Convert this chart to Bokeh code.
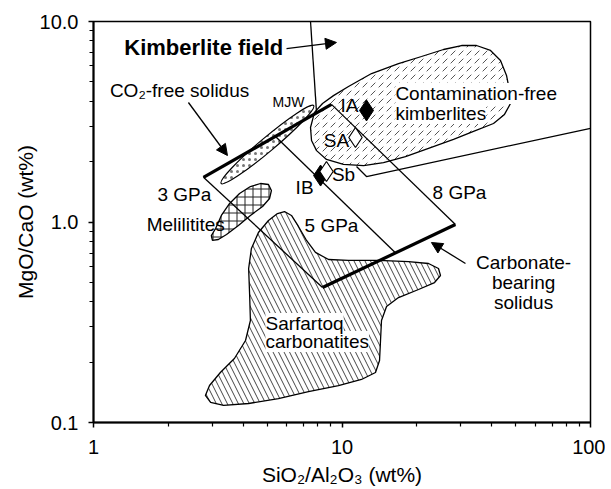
from bokeh.plotting import figure
from bokeh.models import Range1d, FixedTicker, Arrow, NormalHead, ColumnDataSource
from bokeh.core.properties import value
from bokeh.embed import file_html
from bokeh.resources import INLINE

FONT = "Liberation Sans"

# ---- axis ticks ----
x_major = [1, 10, 100]
x_minor = [2, 3, 4, 5, 6, 7, 8, 9, 20, 30, 40, 50, 60, 70, 80, 90]
x_labels = ["1", "10", "100"]
y_major = [0.1, 1, 10]
y_minor = [0.2, 0.3, 0.4, 0.5, 0.6, 0.7, 0.8, 0.9, 2, 3, 4, 5, 6, 7, 8, 9]
y_labels = ["0.1", "1.0", "10.0"]

# ---- kimberlite field lines (SiO2/Al2O3, MgO/CaO) ----
iso3_x = [2.77, 8.35]; iso3_y = [1.67, 0.471]
iso5_x = [5.40, 16.4]; iso5_y = [2.67, 0.702]
iso8_x = [9.07, 28.6]; iso8_y = [3.86, 0.972]
co2free_x = [2.77, 9.07]; co2free_y = [1.67, 3.86]
carb_x = [8.35, 28.6]; carb_y = [0.471, 0.972]
kleft_x = [7.47, 7.90]; kleft_y = [10.0, 3.50]
kright_x = [11.44, 12.55, 100]; kright_y = [1.89, 1.686, 2.93]

# ---- fields ----
sarf_x = [5.87, 6.26, 6.68, 7.20, 7.82, 8.83, 10.62, 14.03, 18.52, 22.29, 24.45, 24.91,
          23.57, 20.32, 16.88, 15.11, 14.42, 14.29, 14.16, 13.64, 11.98, 9.68, 7.33, 5.55,
          4.21, 3.34, 2.96, 2.82, 2.93, 3.24, 3.69, 4.09, 4.28, 4.25, 4.21, 4.32, 4.61, 5.06, 5.50]
sarf_y = [1.128, 1.078, 0.950, 0.809, 0.705, 0.650, 0.643, 0.643, 0.635, 0.621, 0.586, 0.541,
          0.499, 0.4606, 0.420, 0.379, 0.3226, 0.2564, 0.2038, 0.1776, 0.1639, 0.1529, 0.1427, 0.1317,
          0.1244, 0.1216, 0.1259, 0.1364, 0.1529, 0.1776, 0.2085, 0.2564, 0.3226, 0.430, 0.586, 0.738, 0.886, 1.017, 1.102]

kimb_x = [7.47, 7.75, 8.35, 9.24, 10.62, 13.15, 16.88, 20.89, 25.62, 30.27, 34.77, 39.59, 43.43,
          45.92, 47.21, 47.65, 45.07, 40.71, 33.82, 28.10, 22.29, 18.01, 14.69, 12.21, 10.14, 8.66, 7.90, 7.54]
kimb_y = [2.96, 3.52, 3.90, 4.27, 4.74, 5.50, 6.17, 6.69, 7.25, 7.59, 7.59, 7.17, 6.39,
          5.38, 4.53, 3.90, 3.44, 3.10, 2.83, 2.58, 2.33, 2.12, 1.98, 1.91, 1.94, 2.05, 2.27, 2.55]

mel_x = [4.70, 5.06, 5.20, 5.11, 4.79, 4.28, 3.83, 3.43, 3.18, 3.01, 2.98, 3.10, 3.27, 3.53, 3.87, 4.28]
mel_y = [1.556, 1.538, 1.436, 1.310, 1.195, 1.078, 0.961, 0.866, 0.818, 0.809, 0.856, 0.928, 1.078, 1.237, 1.387, 1.503]

mjw_x = [5.01]; mjw_y = [2.435]

# ---- samples ----
filled_x = [12.55, 8.20]; filled_y = [3.60, 1.705]
open_x = [11.33, 8.66]; open_y = [2.64, 1.786]

# ---- arrows ----
arr_x0 = [5.98, 2.41, 31.4]; arr_y0 = [7.33, 3.945, 0.621]
arr_x1 = [9.50, 3.46, 22.9]; arr_y1 = [7.86, 2.146, 0.790]

# ---- field names drawn over hatching ----
field_lab_x = [16.4, 16.4, 4.92, 4.92]
field_lab_y = [4.375, 3.476, 0.3118, 0.2535]
field_lab_t = ["Contamination-free", "kimberlites", "Sarfartoq", "carbonatites"]

p = figure(x_axis_type="log", y_axis_type="log",
           x_range=Range1d(1, 100), y_range=Range1d(0.1, 10),
           frame_width=497, frame_height=401,
           min_border_left=93, min_border_top=21, min_border_right=15, min_border_bottom=56,
           output_backend="svg", toolbar_location=None)
p.grid.visible = False
p.outline_line_color = "black"
p.outline_line_width = 1.5

p.xaxis.ticker = FixedTicker(ticks=x_major, minor_ticks=x_minor)
p.yaxis.ticker = FixedTicker(ticks=y_major, minor_ticks=y_minor)
p.xaxis.major_label_overrides = {k: v for k, v in zip(x_major, x_labels)}
p.yaxis.major_label_overrides = {k: v for k, v in zip(y_major, y_labels)}
for ax in (p.xaxis[0], p.yaxis[0]):
    ax.axis_line_width = 2
    ax.axis_line_color = "black"
    ax.major_tick_line_color = "black"
    ax.minor_tick_line_color = "black"
    ax.major_tick_line_width = 1.5
    ax.minor_tick_line_width = 1.2
    ax.major_tick_out = 5
    ax.major_tick_in = 0
    ax.minor_tick_out = 4
    ax.minor_tick_in = 0
    ax.major_label_text_font = FONT
    ax.major_label_text_font_size = "20px"
    ax.major_label_text_color = "black"
    ax.axis_label_text_font = FONT
    ax.axis_label_text_font_size = "21px"
    ax.axis_label_text_font_style = "normal"
    ax.axis_label_text_color = "black"
p.xaxis.axis_label = "SiO₂/Al₂O₃ (wt%)"
p.yaxis.axis_label = "MgO/CaO (wt%)"
p.xaxis.major_label_standoff = 12
p.yaxis.major_label_standoff = 10
p.xaxis.axis_label_standoff = 6
p.yaxis.axis_label_standoff = 0

# fields
p.patch(sarf_x, sarf_y, fill_alpha=0, line_color="black", line_width=1.3,
        hatch_pattern="left_diagonal_line", hatch_color="#444444", hatch_scale=11, hatch_weight=1)
p.patch(kimb_x, kimb_y, fill_alpha=0, line_color="black", line_width=1.3,
        hatch_pattern="right_diagonal_dash", hatch_color="#555555", hatch_scale=8, hatch_weight=1)
p.patch(mel_x, mel_y, fill_alpha=0, line_color="black", line_width=1.3,
        hatch_pattern="cross", hatch_color="#222222", hatch_scale=8, hatch_weight=1)
p.ellipse(mjw_x, mjw_y, width=121, height=14, width_units="screen", height_units="screen",
          angle=0.70, fill_alpha=0, line_color="black", line_width=1.2,
          hatch_pattern="dot", hatch_color="#777777", hatch_scale=6, hatch_weight=3)

# white backgrounds behind the field names, then the names themselves
p.text(x=field_lab_x, y=field_lab_y, text=field_lab_t, text_font=value(FONT),
       text_font_size="19px", text_align="left", text_baseline="middle",
       text_alpha=0, background_fill_color="white", padding=0)

# lines
for xs, ys in [(iso3_x, iso3_y), (iso5_x, iso5_y), (iso8_x, iso8_y),
               (kleft_x, kleft_y), (kright_x, kright_y)]:
    p.line(xs, ys, line_color="black", line_width=1.3)
p.line(co2free_x, co2free_y, line_color="black", line_width=3.2)
p.line(carb_x, carb_y, line_color="black", line_width=3.2)

p.text(x=field_lab_x, y=field_lab_y, text=field_lab_t, text_font=value(FONT),
       text_font_size="19px", text_align="left", text_baseline="middle", text_color="black")

# samples
p.scatter(filled_x, filled_y, marker="diamond", size=21, fill_color="black", line_color="black")
p.scatter(open_x, open_y, marker="diamond", size=20, fill_color="white", line_color="black", line_width=1.2)

# arrows
asrc = ColumnDataSource(dict(x0=arr_x0, y0=arr_y0, x1=arr_x1, y1=arr_y1))
p.add_layout(Arrow(end=NormalHead(size=11, fill_color="black", line_color="black"),
                   x_start="x0", y_start="y0", x_end="x1", y_end="y1",
                   line_width=1.3, source=asrc))

# labels
def lab(x, y, t, size="19px", align="center", style="normal"):
    p.text(x=[x], y=[y], text=[t], text_font=value(FONT), text_font_size=size,
           text_align=align, text_baseline="middle", text_font_style=style,
           text_color="black")

lab(5.8, 7.42, "Kimberlite field", size="22px", align="right", style="bold")
lab(2.22, 4.53, "CO₂-free solidus")
lab(6.09, 3.945, "MJW", size="14px")
lab(2.32, 1.371, "3 GPa")
lab(9.07, 0.961, "5 GPa")
lab(29.7, 1.403, "8 GPa")
lab(2.35, 0.972, "Melilitites")
lab(10.72, 3.81, "IA")
lab(9.50, 2.55, "SA")
lab(10.14, 1.725, "Sb")
lab(7.07, 1.486, "IB")
lab(53.8, 0.628, "Carbonate-")
lab(53.8, 0.4994, "bearing")
lab(53.8, 0.3968, "solidus")

open("out.html", "w").write(file_html(p, INLINE))
